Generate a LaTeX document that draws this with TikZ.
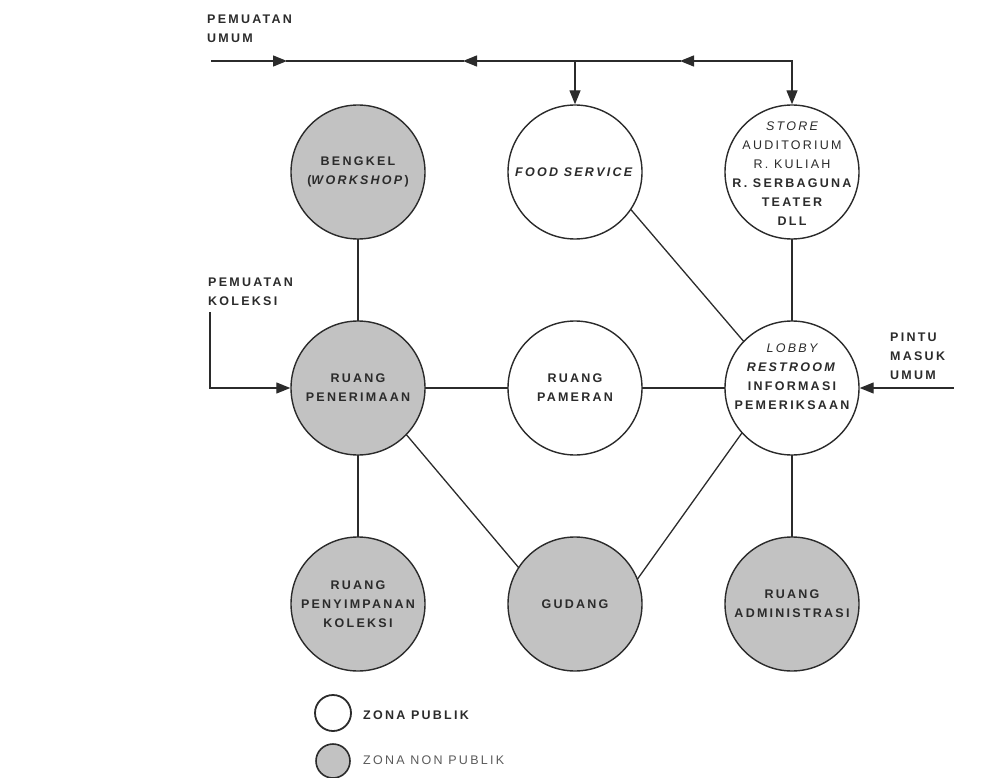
\documentclass[tikz,border=0pt]{standalone}
\usepackage{fontspec}
\usepackage{xcolor}
\usepackage{tikz}
\usetikzlibrary{arrows.meta, positioning}
\newfontfamily\plan{Liberation Sans}[LetterSpace=18]
\definecolor{ink}{HTML}{2B2B2B}
\definecolor{nonpublik}{HTML}{C2C2C2}
\definecolor{faded}{HTML}{5A5A5A}

\begin{document}
\begin{tikzpicture}[
    x=1pt, y=-1pt,
    node distance=216pt and 217pt, on grid,
    every node/.style={font=\plan\bfseries\fontsize{12.5}{19}\selectfont, text=ink},
    zone/.style={circle, draw=ink, fill=white, line width=1.4pt,
                 minimum size=134pt, inner sep=0pt, align=center},
    nonpub/.style={zone, fill=nonpublik},
    inside/.style={align=center, inner sep=0pt},
    link/.style={draw=ink, line width=1.3pt, line cap=rect},
    arrow/.style={link, -{Triangle[length=14pt, width=11pt]}},
    note/.style={anchor=north west, inner sep=0pt, align=left}
]
\useasboundingbox (0,0) rectangle (982,778);

% zones
\node[nonpub] (terima) at (358,388) {RUANG\\PENERIMAAN};
\node[nonpub, above=of terima] (bengkel) {BENGKEL\\(\textit{WORKSHOP})};
\node[nonpub, below=of terima] (simpan) {RUANG\\PENYIMPANAN\\KOLEKSI};
\node[zone, right=of terima] (pameran) {RUANG\\PAMERAN};
\node[zone, above=of pameran] (food) {\textit{FOOD SERVICE}};
\node[nonpub, below=of pameran] (gudang) {GUDANG};
\node[zone, right=of pameran, label={[inside, yshift=11pt]center:
    {\mdseries\itshape LOBBY}\\\textit{RESTROOM}\\INFORMASI\\PEMERIKSAAN}] (lobby) {};
\node[zone, above=of lobby, label={[inside, yshift=-2pt]center:
    {\mdseries\itshape STORE}\\{\mdseries AUDITORIUM}\\{\mdseries R. KULIAH}\\
    R. SERBAGUNA\\TEATER\\DLL}] (store) {};
\node[nonpub, below=of lobby] (admin) {RUANG\\ADMINISTRASI};

% relations
\draw[link] (bengkel) -- (terima);
\draw[link] (terima) -- (pameran);
\draw[link] (pameran) -- (lobby);
\draw[link] (terima) -- (simpan);
\draw[link] (store) -- (lobby);
\draw[link] (lobby) -- (admin);
\draw[link] (food.-34) -- (lobby.136);
\draw[link] (terima.-44) -- (gudang.147);
\draw[link] (lobby.-138) -- (gudang.22);

% pemuatan umum
\coordinate (umum) at (212,61);
\coordinate (tipA) at (287,61);
\coordinate (tipB) at (463,61);
\coordinate (tipC) at (680,61);
\coordinate (jfood) at (food |- umum);
\coordinate (jstore) at (store |- umum);
\draw[arrow] (umum) -- (tipA);
\draw[link] (tipA) -- (tipB);
\draw[arrow] (jfood) -- (tipB);
\draw[link] (jfood) -- (tipC);
\draw[arrow] (jstore) -- (tipC);
\draw[arrow] (jfood) -- (food);
\draw[arrow] (jstore) -- (store);
\node[note] (lumum) at (207,15) {PEMUATAN\\UMUM};

% pemuatan koleksi
\coordinate (koleksi) at (210,313);
\draw[arrow] (koleksi) |- (terima);
\node[note] (lkoleksi) at (208,278) {PEMUATAN\\KOLEKSI};

% pintu masuk umum
\coordinate (pintu) at (953,388);
\draw[arrow] (pintu) -- (lobby);
\node[note] (lpintu) at (890,333) {PINTU\\MASUK\\UMUM};

% legend
\node[zone, minimum size=36pt, line width=1.8pt] (legpub) at (333,713) {};
\node[nonpub, minimum size=34pt, line width=1.6pt] (legnon) at (333,761) {};
\node[anchor=west, inner sep=0pt] (tpub) at (363,715) {ZONA PUBLIK};
\node[anchor=west, inner sep=0pt, text=faded, font=\plan\fontsize{12.5}{19}\selectfont]
    (tnon) at (363,760) {ZONA NON PUBLIK};
\end{tikzpicture}
\end{document}
